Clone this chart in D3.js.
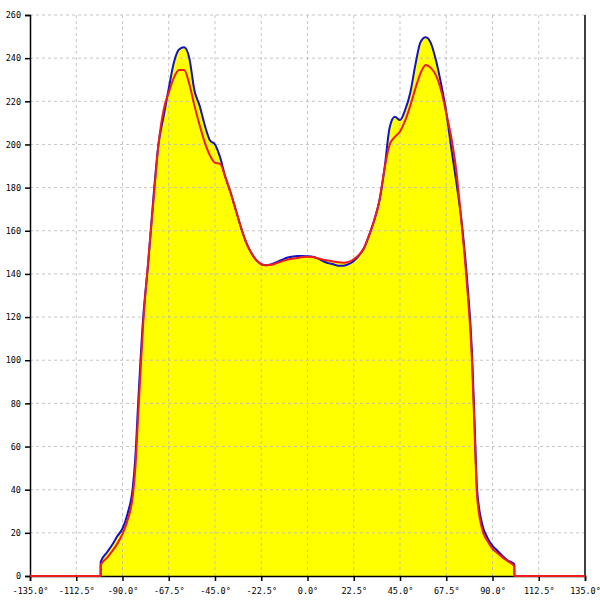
<!DOCTYPE html>
<html><head><meta charset="utf-8">
<script src="https://cdn.jsdelivr.net/npm/d3@7"></script>
<style>body{margin:0;background:#fff}svg{display:block}</style>
</head><body>
<svg id="c" width="600" height="600"></svg>
<script>
const angles = [-100.6,-97.5,-95,-92.5,-90,-87.5,-85,-83.75,-82.5,-80,-77.5,-75,-72.5,-70,-67.5,-65,-62.5,-60,-57.5,-55,-52.5,-50,-47.5,-45,-42.5,-40,-37.5,-35,-32.5,-30,-27.5,-25,-22.5,-20,-17.5,-15,-12.5,-10,-7.5,-5,-2.5,0,2.5,5,7.5,10,12.5,15,17.5,20,22.5,25,27.5,30,32.5,35,37.5,40,42.5,45,47.5,50,52.5,55,57.5,60,62.5,65,67.5,70,72.5,75,77.5,80,81.25,82.5,85,87.5,90,92.5,95,97.5,100.6];
const blueValues = [6.6,11,14.5,18.5,22,29,41,55,78,119,145,175,200,213,226,238,244,245,240,225,218,209,202,200,194,185,178,170,162,155,150,146.5,144.5,144,144.5,145.5,146.5,147.5,148,148.3,148.3,148.2,148,147.2,146,145,144.5,143.8,143.8,144.5,146,148.5,152,158,165,174,189,208,212.8,211.3,216,224,237,247.5,249.7,247,239,228,215,198,182,164,139,104,72,40,24,17.8,14,11.6,9.2,7.2,5.5];
const redValues = [5,8.5,11.5,15,19.5,26,37,50,72,116,146,173,200,216,224,231,234.5,234.5,228,218,209,201,195,191.5,191,185,178,170,162,155,150,146.5,144.5,144,144.2,145,145.8,146.5,147,147.4,147.8,148,147.8,147.2,146.6,146.2,145.8,145.4,145.2,145.6,146.8,148.8,152,158,165,174,189,200,203.5,206,211,218,226,233,236.8,235.5,232,225,214.5,203,187,163,136,100,68,37,21.5,16.3,12.6,10.5,8.5,6.8,4.6];
const xTicks = [-135,-112.5,-90,-67.5,-45,-22.5,0,22.5,45,67.5,90,112.5,135];
const yTicks = [0,20,40,60,80,100,120,140,160,180,200,220,240,260];

const svg = d3.select("#c");
const L=30,R=585,T=15,B=576;
const x = d3.scaleLinear().domain([-135,135]).range([L,R]);
const y = d3.scaleLinear().domain([0,260]).range([B,T]);
const font = "'DejaVu Sans Mono', monospace";

function series(vals){
  const pts=[[-135,0],[angles[0]-0.05,0]];
  angles.forEach((a,i)=>pts.push([a,vals[i]]));
  pts.push([angles[angles.length-1]+0.05,0],[135,0]);
  return pts;
}
const maxVals = blueValues.map((v,i)=>Math.max(v,redValues[i]));

// fill
const area = d3.area().x(d=>x(d[0])).y0(y(0)).y1(d=>y(d[1])).curve(d3.curveMonotoneX);
svg.append("path").datum(series(maxVals)).attr("d",area).attr("fill","#ffff00");

// grid
const g = svg.append("g");
g.selectAll(".vg").data(xTicks.slice(1,-1)).join("line")
  .attr("x1",d=>x(d)).attr("x2",d=>x(d)).attr("y1",T).attr("y2",B)
  .attr("stroke","#b8b8b8").attr("stroke-dasharray","3,3").attr("stroke-opacity",0.8);
g.selectAll(".hg").data(yTicks.slice(1)).join("line")
  .attr("x1",L).attr("x2",R).attr("y1",d=>y(d)).attr("y2",d=>y(d))
  .attr("stroke","#b8b8b8").attr("stroke-dasharray","3,3").attr("stroke-opacity",0.8);

// axes
const xAxis = d3.axisBottom(x).tickValues(xTicks).tickSize(5).tickFormat(d=>d.toFixed(1)+"°");
const gx = svg.append("g").attr("transform",`translate(0,${B})`).call(xAxis);
const yAxis = d3.axisLeft(y).tickValues(yTicks).tickSize(5).tickFormat(d=>d);
const gy = svg.append("g").attr("transform",`translate(${L},0)`).call(yAxis);
[gx,gy].forEach(a=>{
  a.select(".domain").attr("stroke","#000").attr("stroke-width",1.5);
  a.selectAll(".tick line").attr("stroke","#000").attr("stroke-width",1.5);
  a.selectAll("text").attr("font-family",font).attr("font-size","8.5px").attr("fill","#000");
});
gx.selectAll("text").attr("dy","0.95em").attr("y",10);
gy.selectAll("text").attr("x",-9);
svg.append("line").attr("x1",R).attr("x2",R).attr("y1",T).attr("y2",B).attr("stroke","#000").attr("stroke-width",1.5);

// lines
const line = d3.line().x(d=>x(d[0])).y(d=>y(d[1])).curve(d3.curveMonotoneX);
svg.append("path").datum(series(blueValues)).attr("d",line).attr("fill","none").attr("stroke","#1212c8").attr("stroke-width",2);
svg.append("path").datum(series(redValues)).attr("d",line).attr("fill","none").attr("stroke","#ee1c1c").attr("stroke-width",2);
</script>
</body></html>
